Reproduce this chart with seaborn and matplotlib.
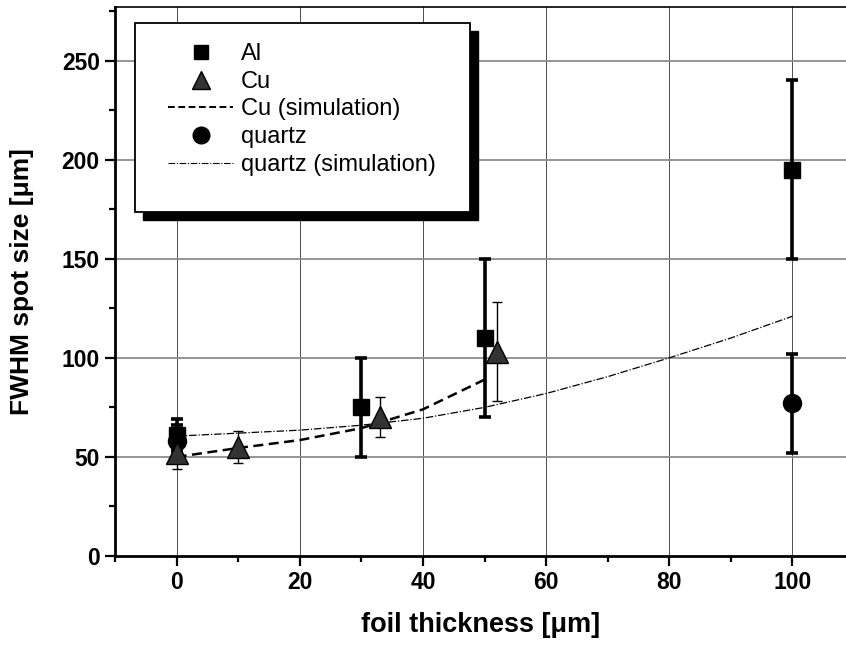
import numpy as np
import pandas as pd
import matplotlib
matplotlib.use("Agg")
import matplotlib.pyplot as plt
import seaborn as sns
from matplotlib.lines import Line2D
from matplotlib.patches import Rectangle
from matplotlib.ticker import MultipleLocator

# ---- data ----
al_x = [0, 30, 50, 100]
al_y = [61, 75, 110, 195]
al_err = [8, 25, 40, 45]

cu_x = [0, 10, 33, 52]
cu_y = [52, 55, 70, 103]
cu_err = [8, 8, 10, 25]

qz_x = [0, 100]
qz_y = [58, 77]
qz_err = [8, 25]

cu_sim_x = [0, 10, 20, 30, 40, 50]
cu_sim_y = [50, 54.5, 58.5, 64.5, 74, 89]

qz_sim_x = [0, 10, 20, 30, 40, 50, 60, 70, 80, 90, 100]
qz_sim_y = [60.5, 62, 63.5, 66, 69.5, 75, 82, 90.5, 100, 110, 121]

x_ticks = [0, 20, 40, 60, 80, 100]
y_ticks = [0, 50, 100, 150, 200, 250]
legend_labels = ['Al', 'Cu', 'Cu (simulation)', 'quartz', 'quartz (simulation)']

sns.set_theme(style="ticks")
plt.rcParams['font.family'] = ['Liberation Sans', 'DejaVu Sans']
plt.rcParams['text.color'] = 'black'
plt.rcParams['axes.labelcolor'] = 'black'

fig = plt.figure(figsize=(8.46, 6.48), dpi=100)
ax = fig.add_axes([0.136, 0.142, 0.864, 0.847])

# grid
for xv in x_ticks:
    ax.axvline(xv, color='0.3', lw=0.7, zorder=0)
for yv in y_ticks[1:]:
    ax.axhline(yv, color='0.55', lw=1.3, zorder=0)

# simulation curves
cu_sim = pd.DataFrame({'x': cu_sim_x, 'y': cu_sim_y})
qz_sim = pd.DataFrame({'x': qz_sim_x, 'y': qz_sim_y})
sns.lineplot(data=qz_sim, x='x', y='y', ax=ax, color='black', lw=0.9,
             dashes=False, zorder=2)
ax.lines[-1].set_dashes([6, 1.5, 1, 1.5])
sns.lineplot(data=cu_sim, x='x', y='y', ax=ax, color='black', lw=1.8, zorder=2)
ax.lines[-1].set_dashes([4, 2.2])

# data with error bars
ax.errorbar(qz_x, qz_y, yerr=qz_err, fmt='o', color='black', ms=13,
            elinewidth=2.6, capsize=4.5, capthick=2.6, zorder=3)
ax.errorbar(al_x, al_y, yerr=al_err, fmt='s', color='black', ms=11,
            elinewidth=2.6, capsize=4.5, capthick=2.6, zorder=4)
ax.errorbar(cu_x, cu_y, yerr=cu_err, fmt='^', color='black', mfc='0.2', ms=16,
            elinewidth=1.0, capsize=3.8, capthick=1.0, zorder=5)

ax.set_xlim(-10, 108.7)
ax.set_ylim(0, 277)
ax.set_xticks(x_ticks)
ax.set_yticks(y_ticks)
ax.xaxis.set_minor_locator(MultipleLocator(10))
ax.yaxis.set_minor_locator(MultipleLocator(25))
ax.tick_params(axis='both', which='major', direction='out', length=7, width=1.6,
               labelsize=16.5, pad=4, colors='black')
ax.tick_params(axis='both', which='minor', direction='out', length=4.5, width=1.6,
               colors='black')
for lab in ax.get_xticklabels() + ax.get_yticklabels():
    lab.set_fontweight('bold')
for s in ['left', 'bottom']:
    ax.spines[s].set_linewidth(2.0)
    ax.spines[s].set_color('black')
ax.spines['top'].set_linewidth(1.2)
ax.spines['top'].set_color('black')
ax.spines['right'].set_visible(False)

ax.set_xlabel('foil thickness [\u03bcm]', fontsize=19.5, fontweight='bold',
              labelpad=13, color='black')
ax.set_ylabel('FWHM spot size [\u03bcm]', fontsize=19, fontweight='bold',
              labelpad=20, color='black')

# legend box with solid shadow
box_x0, box_x1 = 0.0274, 0.4856
box_y0, box_y1 = 0.6266, 0.971
sh_dx, sh_dy = 8 / 731, 8 / 549
ax.add_patch(Rectangle((box_x0 + sh_dx, box_y0 - sh_dy), box_x1 - box_x0, box_y1 - box_y0,
                       transform=ax.transAxes, facecolor='black', edgecolor='black',
                       zorder=8, clip_on=False))
ax.add_patch(Rectangle((box_x0, box_y0), box_x1 - box_x0, box_y1 - box_y0,
                       transform=ax.transAxes, facecolor='white', edgecolor='black',
                       lw=1.3, zorder=9, clip_on=False))

handles = [
    Line2D([], [], ls='none', marker='s', color='black', ms=10),
    Line2D([], [], ls='none', marker='^', color='black', mfc='0.2', ms=13),
    Line2D([], [], ls=(0, (3.5, 1.8)), color='black', lw=1.4),
    Line2D([], [], ls='none', marker='o', color='black', ms=12),
    Line2D([], [], ls=(0, (6, 1.5, 1, 1.5)), color='black', lw=0.8),
]
leg = ax.legend(handles, legend_labels, loc='upper left',
                bbox_to_anchor=(0.0725, 0.9344),
                fontsize=17, frameon=False, borderpad=0,
                labelspacing=0.24, handlelength=2.75, handletextpad=0.35,
                borderaxespad=0)
for t in leg.get_texts():
    t.set_color('black')
leg.set_zorder(10)

fig.savefig('out.png', dpi=100)
